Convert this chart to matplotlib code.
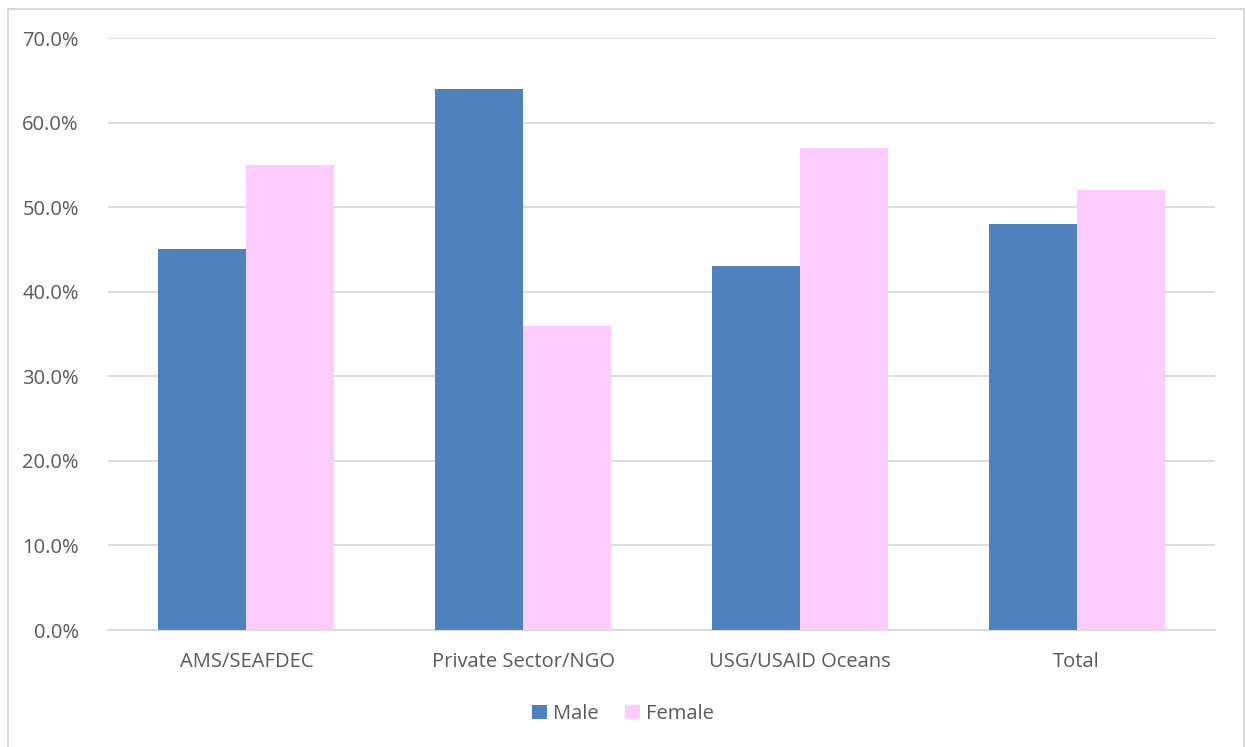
import numpy as np
import matplotlib.pyplot as plt
from matplotlib.patches import Rectangle
from matplotlib.ticker import FuncFormatter, MultipleLocator

# data
categories = ["AMS/SEAFDEC", "Private Sector/NGO", "USG/USAID Oceans", "Total"]
male = [45.0, 64.0, 43.0, 48.0]
female = [55.0, 36.0, 57.0, 52.0]

plt.rcParams['font.family'] = ['Open Sans', 'DejaVu Sans']

fig = plt.figure(figsize=(12.46, 7.47), dpi=100)
ax = fig.add_axes([0.0867, 0.1566, 0.8884, 0.7925])

# outer chart border
fig.patches.append(Rectangle((8 / 1246, -0.01), 1236 / 1246, 1 - 9 / 747 + 0.01,
                             transform=fig.transFigure, fill=False,
                             edgecolor='#D9D9D9', linewidth=1.5))

x = np.arange(len(categories))
w = 0.318
ax.bar(x - w / 2, male, w, color='#4F81BD', label='Male', zorder=3)
ax.bar(x + w / 2, female, w, color='#FFCCFF', label='Female', zorder=3)

ax.set_xlim(-0.5, len(categories) - 0.5)
ax.set_ylim(0, 70)
ax.yaxis.set_major_locator(MultipleLocator(10))
ax.yaxis.set_major_formatter(FuncFormatter(lambda v, p: f"{v:.1f}%"))
ax.grid(axis='y', color='#D9D9D9', linewidth=1.3, zorder=0)

ax.set_xticks(x)
ax.set_xticklabels(categories)
ax.tick_params(axis='both', length=0, labelsize=14.5, colors='#595959')
ax.tick_params(axis='x', pad=16)
ax.tick_params(axis='y', pad=21)

for s in ['top', 'right', 'left']:
    ax.spines[s].set_visible(False)
ax.spines['bottom'].set_color('#D9D9D9')
ax.spines['bottom'].set_linewidth(1.3)

leg = fig.legend(loc='center', bbox_to_anchor=(0.5, 1 - 714 / 747), ncol=2,
                 frameon=False, fontsize=14.5, handlelength=0.75, handleheight=0.75,
                 handletextpad=0.3, columnspacing=1.3)
for t in leg.get_texts():
    t.set_color('#595959')

fig.savefig('out.png', dpi=100)
